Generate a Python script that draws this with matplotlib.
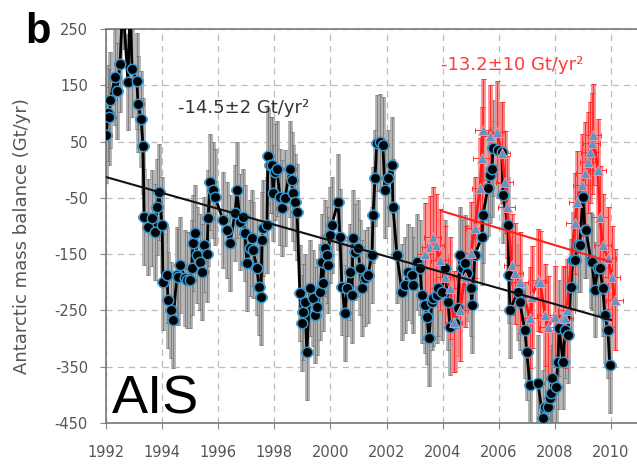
import matplotlib.pyplot as plt

plt.rcParams['axes.unicode_minus'] = False

# black series
black_years = [1992.00, 1992.07, 1992.12, 1992.16, 1992.32, 1992.39, 1992.50, 1992.60, 1992.78,
               1992.86, 1992.93, 1993.10, 1993.14, 1993.25, 1993.32, 1993.36, 1993.50, 1993.64,
               1993.75, 1993.82, 1993.89, 1994.00, 1994.03, 1994.17, 1994.21, 1994.32, 1994.39,
               1994.53, 1994.57, 1994.64, 1994.82, 1994.89, 1994.99, 1995.06, 1995.10, 1995.17,
               1995.24, 1995.35, 1995.42, 1995.50, 1995.60, 1995.64, 1995.71, 1995.81, 1995.88,
               1996.17, 1996.31, 1996.42, 1996.60, 1996.67, 1996.78, 1996.88, 1996.95, 1997.02,
               1997.13, 1997.20, 1997.24, 1997.38, 1997.45, 1997.52, 1997.56, 1997.60, 1997.74,
               1997.77, 1997.84, 1997.92, 1997.95, 1998.02, 1998.09, 1998.20, 1998.27, 1998.38,
               1998.56, 1998.63, 1998.66, 1998.74, 1998.81, 1998.91, 1998.98, 1999.02, 1999.09,
               1999.16, 1999.27, 1999.38, 1999.45, 1999.52, 1999.63, 1999.70, 1999.73, 1999.80,
               1999.88, 1999.91, 1999.98, 2000.05, 2000.27, 2000.34, 2000.41, 2000.52, 2000.59,
               2000.70, 2000.77, 2000.80, 2000.87, 2000.98, 2001.05, 2001.12, 2001.23, 2001.34,
               2001.48, 2001.52, 2001.59, 2001.65, 2001.76, 2001.87, 2001.94, 2002.05, 2002.19,
               2002.23, 2002.37, 2002.55, 2002.66, 2002.76, 2002.91, 2002.94, 2003.08, 2003.19,
               2003.26, 2003.37, 2003.44, 2003.51, 2003.62, 2003.65, 2003.80, 2003.83, 2003.97,
               2004.08, 2004.19, 2004.26, 2004.44, 2004.54, 2004.62, 2004.69, 2004.79, 2004.87,
               2005.00, 2005.04, 2005.15, 2005.40, 2005.44, 2005.61, 2005.68, 2005.76, 2005.79,
               2005.97, 2006.11, 2006.15, 2006.33, 2006.36, 2006.40, 2006.68, 2006.75, 2006.93,
               2007.00, 2007.11, 2007.40, 2007.57, 2007.65, 2007.75, 2007.82, 2007.86, 2007.90,
               2008.04, 2008.11, 2008.15, 2008.29, 2008.36, 2008.46, 2008.57, 2008.64, 2008.71,
               2008.82, 2008.89, 2009.00, 2009.07, 2009.11, 2009.28, 2009.32, 2009.43, 2009.53,
               2009.60, 2009.71, 2009.78, 2009.89, 2009.96]
black_vals = [62, 101, 94, 124, 165, 140, 188, 300, 156,
              290, 179, 158, 117, 90, 42, -84, -102, -86,
              -111, -66, -40, -98, -200, -187, -231, -249, -267,
              -187, -190, -169, -192, -196, -196, -174, -130, -112,
              -151, -164, -182, -133, -150, -86, -22, -36, -48,
              -89, -107, -130, -77, -36, -93, -84, -112, -166,
              -139, -121, -143, -174, -208, -226, -125, -103, -98,
              24, 8, 8, -41, -4, 2, -48, -68, -50,
              1, -18, -41, -57, -75, -219, -272, -253, -235,
              -324, -210, -228, -258, -244, -217, -164, -201, -139,
              -151, -169, -116, -98, -57, -119, -208, -254, -210,
              -182, -222, -121, -146, -139, -174, -210, -192, -187,
              -151, -80, -15, 47, 49, 44, -36, -15, 8,
              -66, -151, -217, -205, -182, -187, -205, -164, -174,
              -222, -240, -261, -299, -235, -228, -222, -210, -217,
              -174, -235, -279, -272, -246, -151, -174, -166, -184,
              -210, -240, -151, -119, -80, -33, -10, 1, 38,
              35, 31, -45, -98, -187, -249, -217, -235, -285,
              -324, -382, -379, -441, -421, -421, -405, -397, -370,
              -386, -341, -281, -341, -285, -294, -208, -160, -160,
              -133, -133, -48, -107, -107, -160, -164, -213, -174,
              -174, -210, -258, -285, -347]

# red series
red_years = [2003.37, 2003.55, 2003.65, 2003.76, 2003.90, 2004.08, 2004.26, 2004.40, 2004.62,
             2004.79, 2005.01, 2005.15, 2005.33, 2005.40, 2005.44, 2005.68, 2005.93, 2006.11,
             2006.22, 2006.29, 2006.47, 2006.58, 2006.75, 2007.11, 2007.18, 2007.40, 2007.47,
             2007.65, 2007.75, 2008.00, 2008.29, 2008.36, 2008.43, 2008.71, 2008.79, 2008.96,
             2009.07, 2009.18, 2009.25, 2009.32, 2009.36, 2009.53, 2009.60, 2009.71, 2009.89,
             2010.03, 2010.14]
red_vals = [-150, -137, -120, -133, -160, -190, -210, -270, -250,
            -190, -148, -103, -33, 21, 71, 60, 67, 30,
            -22, -66, -169, -184, -200, -263, -226, -196, -199,
            -258, -279, -261, -261, -263, -249, -95, -57, -27,
            -6, 13, 31, 47, 62, 0, -84, -133, -157,
            -190, -231]

black_trend_years = [1992, 2010]
black_trend_vals = [-13, -267]
red_trend_years = [2003.94, 2010]
red_trend_vals = [-73, -164]

xticks = list(range(1992, 2011, 2))
yticks = list(range(-450, 251, 100))

fig = plt.figure(figsize=(6.37, 4.65), dpi=100)
ax = fig.add_axes([106 / 637, 42 / 465, 533 / 637, 394 / 465])

# black series: grey bars, thin bars with caps, line and dots
ax.errorbar(black_years, black_vals, yerr=85, fmt='none', ecolor='#b2b2b2',
            elinewidth=3.5, zorder=1)
ax.errorbar(black_years, black_vals, yerr=85, xerr=0.22, fmt='none', ecolor='#707070',
            elinewidth=0.5, capsize=1.6, capthick=0.5, zorder=1.2)

# red series bars
ax.errorbar(red_years, red_vals, yerr=90, fmt='none', ecolor='#ff8080',
            elinewidth=3.5, alpha=0.85, zorder=2)
ax.errorbar(red_years, red_vals, yerr=90, xerr=0.3, fmt='none', ecolor='#ff3030',
            elinewidth=0.7, capsize=1.8, capthick=0.7, zorder=2.2)

ax.plot(black_years, black_vals, '-', color='black', lw=2, zorder=3)
ax.plot(red_years, red_vals, '-', color='#ff1a1a', lw=2, zorder=3.5)
ax.plot(black_years, black_vals, 'o', mfc='black', mec='#3597d0', mew=1.1, ms=7.5, zorder=4)
ax.plot(red_years, red_vals, '^', mfc='#5c95cc', mec='#ff9a9a', mew=0.6, ms=6.5, zorder=5)

# trends
ax.plot(black_trend_years, black_trend_vals, '-', color='#111111', lw=1.5, zorder=6)
ax.plot(red_trend_years, red_trend_vals, '-', color='#ff2020', lw=1.5, zorder=6)

ax.text(1994.57, 101, '-14.5±2 Gt/yr²', fontsize=13, color='#333333', zorder=7)
ax.text(2003.94, 177, '-13.2±10 Gt/yr²', fontsize=13, color='#ff3b3b', zorder=7)

ax.set_xlim(1992, 2011)
ax.set_ylim(-450, 250)
ax.set_xticks(xticks)
ax.set_yticks(yticks)
ax.grid(True, linestyle=(0, (5, 4)), color='#bbbbbb', lw=0.9)
ax.set_axisbelow(True)
ax.tick_params(axis='both', colors='#888888', labelcolor='#555555', labelsize=10.5,
               length=4, direction='out')
ax.tick_params(axis='x', pad=12)
ax.tick_params(axis='y', pad=9)
for side in ['left', 'bottom', 'top']:
    ax.spines[side].set_color('#777777')
    ax.spines[side].set_linewidth(1.2)
ax.spines['right'].set_visible(False)

ax.set_ylabel('Antarctic mass balance (Gt/yr)', fontsize=13, color='#555555')
ax.yaxis.set_label_coords(-0.141, 0.475)

fig.text(25 / 637, 1 - 43 / 465, 'b', fontsize=30, fontweight='bold',
         family='Liberation Sans', va='baseline')
fig.text(112 / 637, 1 - 413 / 465, 'AIS', fontsize=39, family='Liberation Sans',
         va='baseline')

fig.savefig('out.png', dpi=100)
